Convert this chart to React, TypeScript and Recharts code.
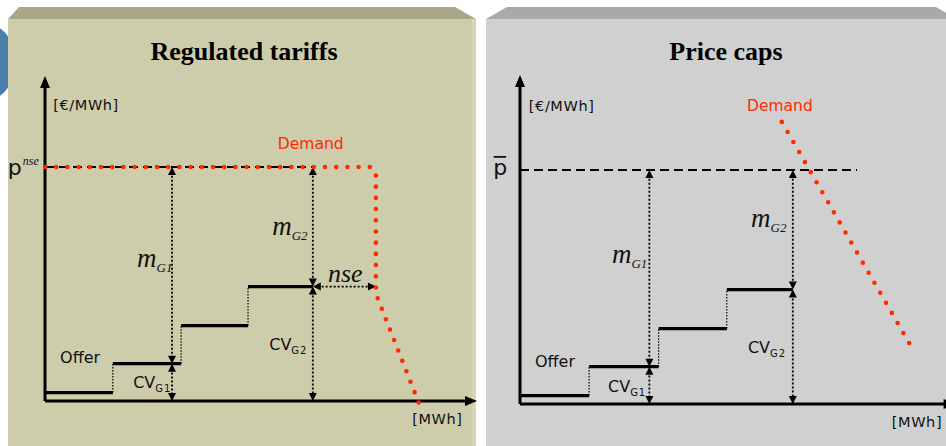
import React from "react";
import { ComposedChart, Line, XAxis, YAxis, ReferenceLine, ReferenceDot } from "recharts";

const SANS = "'DejaVu Sans', Verdana, sans-serif";
const SERIF = "'Liberation Serif', 'Times New Roman', serif";
const RED = "#ff2a00";
const INK = "#111";

// Offer curve: block breakpoints on the quantity axis and the price of each block
const offerBreaks = [0, 15.7, 31.5, 47, 62];
const offerPrices = [2.6, 11.5, 23.2, 35.2];

// Price level: p^nse (regulated tariff) / p-bar (price cap)
const priceLevel = 72;

// Marked generators G1, G2: where the margin arrow stands, and their block price
const genNames = ["G1", "G2"];
const genX = [29.4, 62];
const genPrice = [11.5, 35.2];

// Demand curves
const demandTariff = [
  { x: 0, y: 72 },
  { x: 75.2, y: 72 },
  { x: 76.6, y: 70.3 },
  { x: 76.6, y: 33 },
  { x: 86.8, y: -1.5 },
];
const demandCap = [
  { x: 59.5, y: 86.8 },
  { x: 88.6, y: 18.4 },
];

// Labels (baseline anchors in data units)
const tariffLabels = [
  { x: 1.9, y: 89.5, kind: "unit", text: "[€/MWh]" },
  { x: 53.9, y: 77.4, kind: "demand", text: "Demand" },
  { x: -8.6, y: 69.5, kind: "p", text: "p", extra: "nse" },
  { x: 21.3, y: 41.2, kind: "m", text: "m", extra: "G1" },
  { x: 52.6, y: 51.1, kind: "m", text: "m", extra: "G2" },
  { x: 65.5, y: 36.6, kind: "nse", text: "nse" },
  { x: 3.5, y: 11.7, kind: "offer", text: "Offer" },
  { x: 20.4, y: 4.0, kind: "cv", text: "CV", extra: "G1" },
  { x: 51.9, y: 15.7, kind: "cv", text: "CV", extra: "G2" },
  { x: 85, y: -7.1, kind: "unit", text: "[MWh]" },
];
const capLabels = [
  { x: 2.0, y: 90.2, kind: "unit", text: "[€/MWh]" },
  { x: 51.6, y: 90.2, kind: "demand", text: "Demand" },
  { x: -6.1, y: 70.5, kind: "pbar", text: "p" },
  { x: 20.9, y: 43.4, kind: "m", text: "m", extra: "G1" },
  { x: 52.5, y: 54.5, kind: "m", text: "m", extra: "G2" },
  { x: 3.4, y: 11.4, kind: "offer", text: "Offer" },
  { x: 20.0, y: 3.7, kind: "cv", text: "CV", extra: "G1" },
  { x: 51.8, y: 15.7, kind: "cv", text: "CV", extra: "G2" },
  { x: 84.5, y: -7.1, kind: "unit", text: "[MWh]" },
];

const head = (x: number, y: number, ux: number, uy: number, len: number, half: number, key: string) => {
  const bx = x - ux * len;
  const by = y - uy * len;
  const px = -uy * half;
  const py = ux * half;
  return <polygon key={key} points={`${x},${y} ${bx + px},${by + py} ${bx - px},${by - py}`} fill="#000" />;
};

const arrow = (opts: { width: number; dash?: string; both: boolean; len: number; half: number; heads?: boolean }) => (p: any) => {
  const { x1, y1, x2, y2 } = p;
  const d = Math.hypot(x2 - x1, y2 - y1) || 1;
  const ux = (x2 - x1) / d;
  const uy = (y2 - y1) / d;
  const showHeads = opts.heads !== false;
  const sx = showHeads && opts.both ? x1 + ux * opts.len * 0.6 : x1;
  const sy = showHeads && opts.both ? y1 + uy * opts.len * 0.6 : y1;
  const ex = showHeads ? x2 - ux * opts.len * 0.6 : x2;
  const ey = showHeads ? y2 - uy * opts.len * 0.6 : y2;
  return (
    <g>
      <line x1={sx} y1={sy} x2={ex} y2={ey} stroke="#000" strokeWidth={opts.width} strokeDasharray={opts.dash} />
      {showHeads && head(x2, y2, ux, uy, opts.len, opts.half, "e")}
      {showHeads && opts.both && head(x1, y1, -ux, -uy, opts.len, opts.half, "s")}
    </g>
  );
};

const axisArrow = arrow({ width: 3, both: false, len: 12, half: 5 });
const dimArrow = arrow({ width: 1.8, dash: "2 2", both: true, len: 8, half: 4 });
const connector = arrow({ width: 1.2, dash: "1.5 1.5", both: false, len: 0, half: 0, heads: false });

const labelShape = (l: any) => (p: any) => {
  const { cx, cy } = p;
  switch (l.kind) {
    case "unit":
      return (
        <text x={cx} y={cy} fontFamily={SANS} fontSize={14.5} letterSpacing={0.6} fill={INK}>
          {l.text}
        </text>
      );
    case "demand":
      return (
        <text x={cx} y={cy} fontFamily={SANS} fontSize={15.5} fill={RED}>
          {l.text}
        </text>
      );
    case "offer":
      return (
        <text x={cx} y={cy} fontFamily={SANS} fontSize={16} fill={INK}>
          {l.text}
        </text>
      );
    case "cv":
      return (
        <text x={cx} y={cy} fontFamily={SANS} fontSize={16} fill={INK}>
          {l.text}
          <tspan fontSize={10} dy={4} letterSpacing={1}>
            {l.extra}
          </tspan>
        </text>
      );
    case "m":
      return (
        <text x={cx} y={cy} fontFamily={SERIF} fontStyle="italic" fontSize={27} fill={INK}>
          {l.text}
          <tspan fontSize={13} dy={5}>
            {l.extra}
          </tspan>
        </text>
      );
    case "nse":
      return (
        <text x={cx} y={cy} fontFamily={SERIF} fontStyle="italic" fontSize={26} fill={INK}>
          {l.text}
        </text>
      );
    case "p":
      return (
        <text x={cx} y={cy} fontFamily={SANS} fontSize={22} fill={INK}>
          {l.text}
          <tspan fontFamily={SERIF} fontStyle="italic" fontSize={12} dx={1} dy={-10}>
            {l.extra}
          </tspan>
        </text>
      );
    case "pbar":
      return (
        <g>
          <text x={cx} y={cy} fontFamily={SANS} fontSize={22} fill={INK}>
            {l.text}
          </text>
          <line x1={cx + 0.5} y1={cy - 18} x2={cx + 13} y2={cy - 18} stroke={INK} strokeWidth={1.8} />
        </g>
      );
    default:
      return null;
  }
};

type PanelProps = {
  left: number;
  width: number;
  margin: { top: number; right: number; bottom: number; left: number };
  demand: { x: number; y: number }[];
  labels: any[];
  capEnd: number;
  yTop: number;
  xEnd: number;
  dotGap: number;
  tariff: boolean;
};

function Panel({ left, width, margin, demand, labels, capEnd, yTop, xEnd, dotGap, tariff }: PanelProps) {
  return (
    <div style={{ position: "absolute", left, top: 0 }}>
      <ComposedChart width={width} height={446} data={demand} margin={margin}>
        <XAxis type="number" dataKey="x" domain={[-10, 100]} hide allowDataOverflow />
        <YAxis type="number" domain={[-7, 104]} hide allowDataOverflow />

        {/* price level */}
        <ReferenceLine
          segment={[{ x: 0, y: priceLevel }, { x: capEnd, y: priceLevel }]}
          stroke="#000"
          strokeWidth={2}
          strokeDasharray="9 5"
          ifOverflow="visible"
        />

        {/* offer blocks and their dotted risers */}
        {offerPrices.map((price, i) => (
          <ReferenceLine
            key={`blk${i}`}
            segment={[{ x: offerBreaks[i], y: price }, { x: offerBreaks[i + 1], y: price }]}
            stroke="#000"
            strokeWidth={3.2}
            ifOverflow="visible"
          />
        ))}
        {offerPrices.slice(1).map((price, i) => (
          <ReferenceLine
            key={`rise${i}`}
            segment={[{ x: offerBreaks[i + 1], y: offerPrices[i] }, { x: offerBreaks[i + 1], y: price }]}
            shape={connector}
            ifOverflow="visible"
          />
        ))}

        {/* margin and variable-cost arrows */}
        {genNames.map((g, i) => (
          <ReferenceLine
            key={`m${g}`}
            segment={[{ x: genX[i], y: priceLevel }, { x: genX[i], y: genPrice[i] }]}
            shape={dimArrow}
            ifOverflow="visible"
          />
        ))}
        {genNames.map((g, i) => (
          <ReferenceLine
            key={`cv${g}`}
            segment={[{ x: genX[i], y: genPrice[i] }, { x: genX[i], y: 0 }]}
            shape={dimArrow}
            ifOverflow="visible"
          />
        ))}
        {tariff && (
          <ReferenceLine
            segment={[{ x: genX[1], y: genPrice[1] }, { x: demandTariff[3].x, y: genPrice[1] }]}
            shape={dimArrow}
            ifOverflow="visible"
          />
        )}

        {/* axes */}
        <ReferenceLine segment={[{ x: 0, y: 0 }, { x: 0, y: yTop }]} shape={axisArrow} ifOverflow="visible" />
        <ReferenceLine segment={[{ x: 0, y: 0 }, { x: xEnd, y: 0 }]} shape={axisArrow} ifOverflow="visible" />

        <Line
          dataKey="y"
          type="linear"
          stroke={RED}
          strokeWidth={4.6}
          strokeDasharray={`0 ${dotGap}`}
          strokeLinecap="round"
          dot={false}
          activeDot={false}
          isAnimationActive={false}
        />

        {labels.map((l, i) => (
          <ReferenceDot key={`lb${i}`} x={l.x} y={l.y} r={0} shape={labelShape(l)} ifOverflow="visible" />
        ))}
      </ComposedChart>
    </div>
  );
}

export default function App() {
  return (
    <div style={{ position: "fixed", left: 0, top: 0, width: 946, height: 446, overflow: "hidden", background: "#fff" }}>
      <svg width={946} height={446} style={{ position: "absolute", left: 0, top: 0 }}>
        <circle cx={-25} cy={62} r={42} fill="#4a7fab" />
        <rect x={8} y={19} width={468} height={430} fill="#cdccab" />
        <polygon points="8,19 19,7 455,7 476,19" fill="#a8a78a" />
        <rect x={472} y={19} width={4} height={430} fill="#d6d5b8" />
        <rect x={486} y={19} width={470} height={430} fill="#d0d0d0" />
        <polygon points="486,19 507,7 936,7 957,19" fill="#a9a9a9" />
        <text x={244} y={60} textAnchor="middle" fontFamily={SERIF} fontWeight="bold" fontSize={26} fill="#000">
          Regulated tariffs
        </text>
        <text x={726} y={60} textAnchor="middle" fontFamily={SERIF} fontWeight="bold" fontSize={26} fill="#000">
          Price caps
        </text>
      </svg>
      <Panel
        left={0}
        width={480}
        margin={{ top: 63, right: 3, bottom: 22.25, left: 1.8 }}
        demand={demandTariff}
        labels={tariffLabels}
        capEnd={62}
        yTop={100}
        xEnd={100}
        dotGap={11.2}
        tariff
      />
      <Panel
        left={470}
        width={490}
        margin={{ top: 66, right: 0, bottom: 19.25, left: 6 }}
        demand={demandCap}
        labels={capLabels}
        capEnd={76.6}
        yTop={101.2}
        xEnd={99}
        dotGap={11.6}
        tariff={false}
      />
    </div>
  );
}
